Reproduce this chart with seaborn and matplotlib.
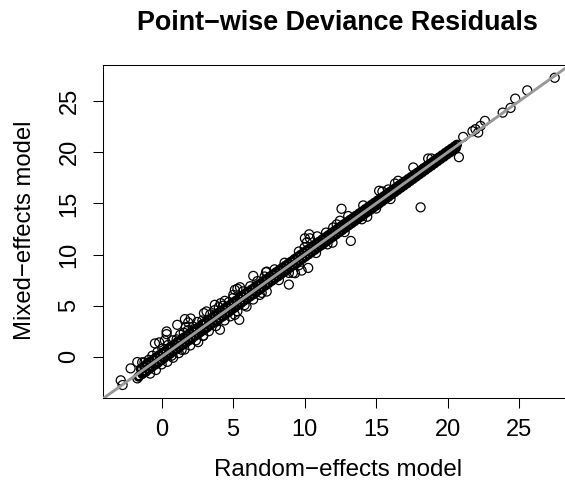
import pandas as pd
import matplotlib
matplotlib.use('Agg')
import matplotlib.pyplot as plt
import seaborn as sns

# dense band along the diagonal, upper side
upper_x = [-1.45, -1.22, -1.03, -0.80, -0.58, -0.37, -0.16, 0.05, 0.27, 0.48,
           0.70, 0.91, 1.12, 1.35, 1.56, 1.78, 1.99, 2.21, 2.42, 2.64,
           2.85, 3.07, 3.28, 3.50, 3.71, 3.93, 4.14, 4.36, 4.57, 4.79,
           5.00, 5.22, 5.43, 5.65, 5.86, 6.08, 6.29, 6.51, 6.72, 6.94,
           7.15, 7.37, 7.58, 7.80, 8.01, 8.23, 8.44, 8.66, 8.87, 9.09,
           9.30, 9.52, 9.73, 9.95, 10.16, 10.38, 10.59, 10.81, 11.02, 11.24,
           11.45, 11.67, 11.88, 12.10, 12.31, 12.53, 12.74, 12.96, 13.17, 13.39,
           13.60, 13.82, 14.03, 14.25, 14.46, 14.68, 14.89, 15.11, 15.32, 15.54,
           15.75, 15.97, 16.18, 16.40, 16.61, 16.83, 17.04, 17.26, 17.47, 17.69,
           17.90, 18.12, 18.33, 18.55, 18.76, 18.98, 19.19, 19.41, 19.62, 19.84,
           20.05, 20.27, 20.48, 20.65]
upper_y = [-1.20, -0.95, -0.72, -0.50, -0.28, -0.05, 0.16, 0.36, 0.55, 0.80,
           1.02, 1.20, 1.45, 1.63, 1.88, 2.08, 2.32, 2.50, 2.74, 2.92,
           3.18, 3.35, 3.60, 3.78, 4.04, 4.20, 4.46, 4.65, 4.88, 5.06,
           5.30, 5.50, 5.72, 5.92, 6.15, 6.34, 6.57, 6.78, 7.00, 7.19,
           7.42, 7.62, 7.85, 8.05, 8.27, 8.48, 8.70, 8.90, 9.12, 9.33,
           9.56, 9.78, 9.98, 10.20, 10.41, 10.62, 10.84, 11.05, 11.26, 11.47,
           11.68, 11.89, 12.11, 12.31, 12.53, 12.74, 12.96, 13.16, 13.38, 13.58,
           13.80, 14.02, 14.22, 14.44, 14.65, 14.86, 15.07, 15.28, 15.49, 15.70,
           15.92, 16.13, 16.34, 16.55, 16.76, 16.98, 17.18, 17.40, 17.60, 17.82,
           18.02, 18.24, 18.45, 18.66, 18.87, 19.08, 19.30, 19.51, 19.72, 19.94,
           20.15, 20.36, 20.56, 20.74]

# dense band, lower side
lower_x = [-1.60, -1.35, -1.12, -0.90, -0.69, -0.47, -0.26, -0.05, 0.16, 0.38,
           0.59, 0.81, 1.02, 1.24, 1.45, 1.67, 1.88, 2.10, 2.31, 2.53,
           2.74, 2.96, 3.17, 3.39, 3.60, 3.82, 4.03, 4.25, 4.46, 4.68,
           4.89, 5.11, 5.32, 5.54, 5.75, 5.97, 6.18, 6.40, 6.61, 6.83,
           7.04, 7.26, 7.47, 7.69, 7.90, 8.12, 8.33, 8.55, 8.76, 8.98,
           9.19, 9.41, 9.62, 9.84, 10.05, 10.27, 10.48, 10.70, 10.91, 11.13,
           11.34, 11.56, 11.77, 11.99, 12.20, 12.42, 12.63, 12.85, 13.06, 13.28,
           13.49, 13.71, 13.92, 14.14, 14.35, 14.57, 14.78, 15.00, 15.21, 15.43,
           15.64, 15.86, 16.07, 16.29, 16.50, 16.72, 16.93, 17.15, 17.36, 17.58,
           17.79, 18.01, 18.22, 18.44, 18.65, 18.87, 19.08, 19.30, 19.51, 19.73,
           19.94, 20.16, 20.37, 20.58]
lower_y = [-1.95, -1.68, -1.48, -1.23, -1.02, -0.78, -0.58, -0.35, -0.15, 0.10,
           0.28, 0.52, 0.72, 0.92, 1.15, 1.35, 1.58, 1.77, 2.02, 2.20,
           2.44, 2.64, 2.86, 3.08, 3.30, 3.50, 3.73, 3.93, 4.16, 4.36,
           4.60, 4.80, 5.04, 5.24, 5.47, 5.68, 5.90, 6.10, 6.33, 6.55,
           6.78, 6.98, 7.20, 7.42, 7.64, 7.85, 8.07, 8.28, 8.50, 8.72,
           8.94, 9.15, 9.37, 9.58, 9.80, 10.02, 10.24, 10.45, 10.67, 10.88,
           11.10, 11.32, 11.54, 11.75, 11.97, 12.19, 12.40, 12.62, 12.84, 13.05,
           13.27, 13.49, 13.70, 13.92, 14.14, 14.35, 14.57, 14.79, 15.00, 15.22,
           15.44, 15.66, 15.88, 16.10, 16.31, 16.53, 16.74, 16.96, 17.18, 17.40,
           17.62, 17.84, 18.05, 18.27, 18.49, 18.70, 18.92, 19.14, 19.36, 19.57,
           19.79, 20.00, 20.22, 20.43]

# points off the band, read one by one
outlier_x = [-2.86, -2.73, -2.17, -1.70, -1.70, -1.36, -0.47, -0.17, 0.35, 0.35,
             0.22, 1.09, 1.63, 2.03, 1.86, 1.69, 2.56, 1.40, 0.70, 2.91,
             4.08, 5.43, 5.12, 5.94, 2.96, 3.14, 3.72, 4.42, 4.13, 5.12,
             5.48, 5.30, 5.01, 6.41, 7.30, 6.87, 7.35, 8.90, 7.35, 10.25,
             9.79, 9.33, 9.18, 10.02, 10.32, 10.37, 10.88, 10.16, 12.58, 13.23,
             11.95, 12.24, 12.47, 13.05, 14.10, 14.38, 15.21, 15.44, 15.85, 16.01,
             16.54, 16.32, 17.60, 18.11, 18.64, 18.88, 20.79, 21.09, 21.74, 21.95,
             22.14, 22.30, 22.61, 23.85, 24.40, 24.73, 25.57, 27.49]
outlier_y = [-2.31, -2.77, -1.14, -2.12, -0.52, -0.55, 1.30, 1.40, 2.47, 2.21,
             1.60, 3.12, 3.68, 3.74, 3.35, 2.90, 1.43, 0.68, 0.10, 2.05,
             2.64, 3.61, 4.10, 4.91, 4.26, 4.43, 5.08, 5.47, 5.24, 6.54,
             6.80, 6.65, 6.05, 7.91, 8.27, 6.05, 6.38, 7.06, 8.33, 8.69,
             8.43, 8.17, 8.20, 11.59, 11.98, 11.59, 11.78, 11.20, 14.48, 11.33,
             11.16, 12.95, 13.31, 13.77, 14.81, 13.70, 16.24, 16.17, 16.37, 15.43,
             17.22, 16.95, 18.52, 14.62, 19.40, 19.40, 19.53, 21.51, 22.07, 22.27,
             21.94, 22.59, 23.08, 23.89, 24.35, 25.26, 26.07, 27.30]

# loose fringe around the lower half of the band
fringe_x = [-1.20, -0.90, -0.65, -0.30, 0.05, 0.45, 0.75, 1.05, 1.30, 1.55,
            1.85, 2.20, 2.50, 2.85, 3.40, 3.70, 4.00, 4.30, 4.70, 5.00,
            5.70, 6.20, 6.70, 7.20, 7.90, 8.60, 9.60, 10.00, 11.50, 12.00,
            -0.80, -0.40, 0.00, 0.40, 0.80, 1.20, 1.60, 2.00, 2.40, 2.90,
            3.30, 3.80, 4.40, 4.80, 5.30, 5.80, 6.40, 7.00, 8.20, 8.90,
            9.60, 10.80, 11.60, 12.80, 14.00, 15.00]
fringe_y = [-0.55, -0.30, 0.10, 0.45, 0.80, 1.15, 1.60, 1.70, 2.15, 2.35,
            2.60, 2.95, 3.40, 3.55, 4.15, 4.55, 4.85, 5.00, 5.35, 5.75,
            6.40, 6.90, 7.40, 7.85, 8.55, 9.20, 10.30, 10.70, 12.15, 12.65,
            -1.65, -1.30, -0.75, -0.50, -0.10, 0.35, 0.70, 1.10, 1.60, 2.05,
            2.50, 3.00, 3.55, 3.95, 4.45, 5.05, 5.60, 6.25, 7.50, 8.20,
            8.95, 10.15, 11.00, 12.20, 13.45, 14.50]

W, H = 565, 488
# the right side of the box falls outside the picture, as in the reference
LEFT, RIGHT, TOP, BOTTOM = 103, 572, 65, 398

sns.set_style('white')
plt.rcParams['font.family'] = ['Liberation Sans', 'DejaVu Sans']
plt.rcParams['text.color'] = 'black'
plt.rcParams['xtick.labelcolor'] = 'black'
plt.rcParams['ytick.labelcolor'] = 'black'

band = pd.DataFrame({'random_effects': upper_x + lower_x, 'mixed_effects': upper_y + lower_y})
loose = pd.DataFrame({'random_effects': outlier_x + fringe_x, 'mixed_effects': outlier_y + fringe_y})

fig = plt.figure(figsize=(W / 100, H / 100), dpi=100)
ax = fig.add_axes([LEFT / W, 1 - BOTTOM / H, (RIGHT - LEFT) / W, (BOTTOM - TOP) / H])

# the band is hundreds of overlapping circles in the original, a heavier stroke closes the gaps
sns.scatterplot(data=band, x='random_effects', y='mixed_effects', ax=ax, marker='o', s=30,
                facecolor='none', edgecolor='black', linewidth=1.9)
sns.scatterplot(data=loose, x='random_effects', y='mixed_effects', ax=ax, marker='o', s=42,
                facecolor='none', edgecolor='black', linewidth=0.9)
ax.axline((0, 0), slope=1, color='#999999', lw=2.1, zorder=5)

ax.set_xlim(-4.1, 28.7)
ax.set_ylim(-4.04, 28.55)
ax.set_xticks([0, 5, 10, 15, 20, 25])
ax.set_yticks([0, 5, 10, 15, 20, 25])
ax.set_xlabel('')
ax.set_ylabel('')
ax.tick_params(axis='both', length=7.2, width=0.75, color='black', labelsize=17, bottom=True, left=True)
ax.tick_params(axis='x', pad=8)
ax.tick_params(axis='y', pad=9)
for lab in ax.get_yticklabels():
    lab.set_rotation(90)
    lab.set_va('center')
for s in ax.spines.values():
    s.set_color('black')
    s.set_linewidth(0.75)

fig.text(337.5 / W, 1 - 23 / H, 'Point\u2212wise Deviance Residuals', ha='center', va='center',
         fontsize=19.4, fontweight='bold')
fig.text(338.5 / W, 1 - 470 / H, 'Random\u2212effects model', ha='center', va='center', fontsize=17.4)
fig.text(25 / W, 1 - 230 / H, 'Mixed\u2212effects model', ha='center', va='center', fontsize=17.2, rotation=90)

fig.savefig('out.png', dpi=100)
